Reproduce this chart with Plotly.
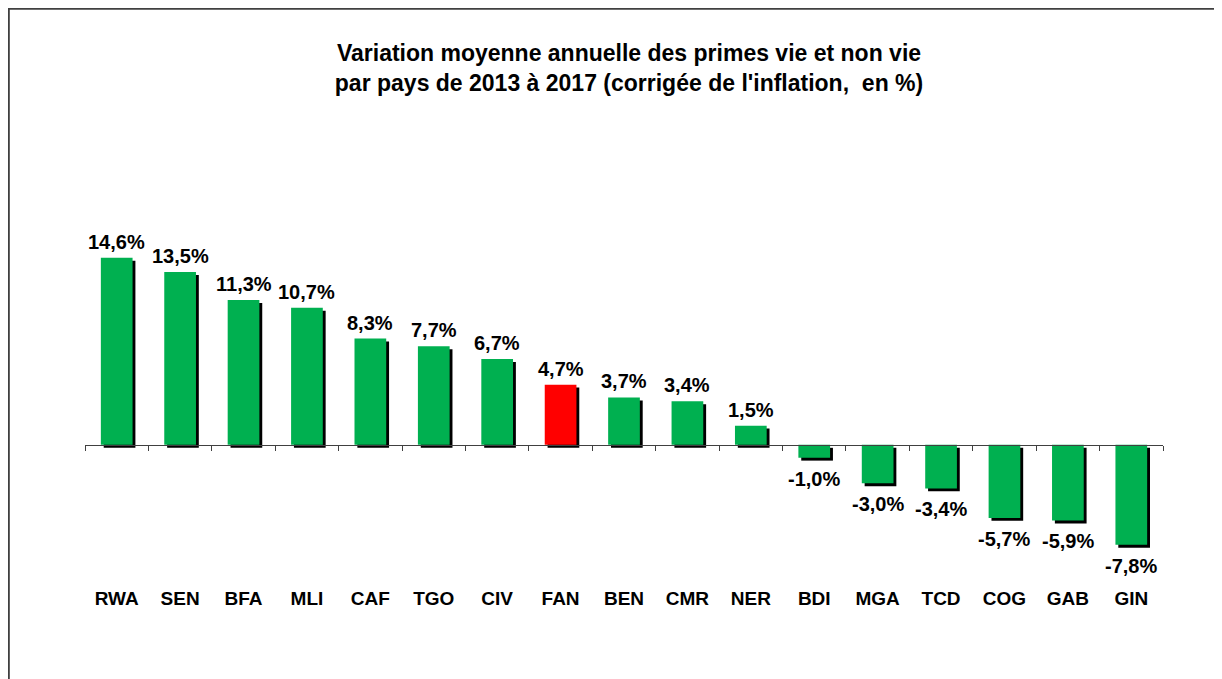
import plotly.graph_objects as go

countries = ["RWA", "SEN", "BFA", "MLI", "CAF", "TGO", "CIV", "FAN", "BEN",
             "CMR", "NER", "BDI", "MGA", "TCD", "COG", "GAB", "GIN"]
values = [14.6, 13.5, 11.3, 10.7, 8.3, 7.7, 6.7, 4.7, 3.7,
          3.4, 1.5, -1.0, -3.0, -3.4, -5.7, -5.9, -7.8]
highlight = "FAN"

title_lines = ["Variation moyenne annuelle des primes vie et non vie",
               "par pays de 2013 à 2017 (corrigée de l'inflation,  en %)"]

GREEN = "#00B050"
RED = "#FF0000"
FONT = "Arial, 'Liberation Sans', sans-serif"

labels = [f"{v:.1f}%".replace(".", ",") for v in values]
colors = [RED if c == highlight else GREEN for c in countries]

Y_MIN, Y_MAX = -10.94, 23.8
SHADOW_Y = 0.23      # vertical shadow shift (data units)
BAR_W = 0.5
SHADOW_DX = 0.045

fig = go.Figure()
# shadow (bottom layer)
fig.add_trace(go.Bar(
    x=countries, y=values, base=[-SHADOW_Y] * len(values),
    width=BAR_W, offset=-BAR_W / 2 + SHADOW_DX,
    marker=dict(color="black", line=dict(width=0)),
    hoverinfo="skip", showlegend=False, xaxis="x", yaxis="y",
))
# main bars (top layer)
fig.add_trace(go.Bar(
    x=countries, y=values, width=BAR_W, offset=-BAR_W / 2,
    marker=dict(color=colors, line=dict(width=0)),
    showlegend=False, xaxis="x2", yaxis="y",
))

annotations = []
for c, v, t in zip(countries, values, labels):
    annotations.append(dict(
        x=c, y=v, xref="x2", yref="y", text=f"<b>{t}</b>", showarrow=False,
        yanchor="bottom" if v >= 0 else "top",
        yshift=3 if v >= 0 else -8,
        font=dict(family=FONT, size=20, color="black"),
    ))

zero_frac = (0 - Y_MIN) / (Y_MAX - Y_MIN)

L, T, PW, PH = 77, 132, 1078, 445

fig.update_layout(
    width=1222, height=679,
    margin=dict(l=L, r=1222 - L - PW, t=T, b=679 - T - PH),
    paper_bgcolor="white", plot_bgcolor="white",
    barmode="overlay",
    font=dict(family=FONT, color="black"),
    title=dict(
        text="<b>" + title_lines[0] + "<br>" + title_lines[1] + "</b>",
        x=(629 - 8) / 1222, xanchor="center", xref="container",
        y=1 - 53 / 679, yanchor="top", yref="container",
        font=dict(family=FONT, size=23, color="black"),
    ),
    xaxis=dict(
        type="category", categoryarray=countries, categoryorder="array",
        showline=False, ticks="", showgrid=False, zeroline=False,
        tickfont=dict(family=FONT, size=19, color="black", weight="bold"),
        ticklabelstandoff=0,
    ),
    xaxis2=dict(
        type="category", categoryarray=countries, categoryorder="array",
        overlaying="x", anchor="free", position=zero_frac,
        showline=True, linecolor="#404040", linewidth=1,
        ticks="outside", tickson="boundaries", ticklen=5, tickcolor="#404040",
        showticklabels=False, showgrid=False, zeroline=False,
    ),
    yaxis=dict(range=[Y_MIN, Y_MAX], visible=False, showgrid=False, zeroline=False),
    annotations=annotations,
    shapes=[dict(
        type="rect", xref="paper", yref="paper",
        x0=(0.8 - L) / PW, x1=1.3, y0=-0.5, y1=(T + PH - 0.8) / PH,
        line=dict(color="#404040", width=2), fillcolor="rgba(0,0,0,0)", layer="below",
    )],
)

fig.write_html("out.html")
